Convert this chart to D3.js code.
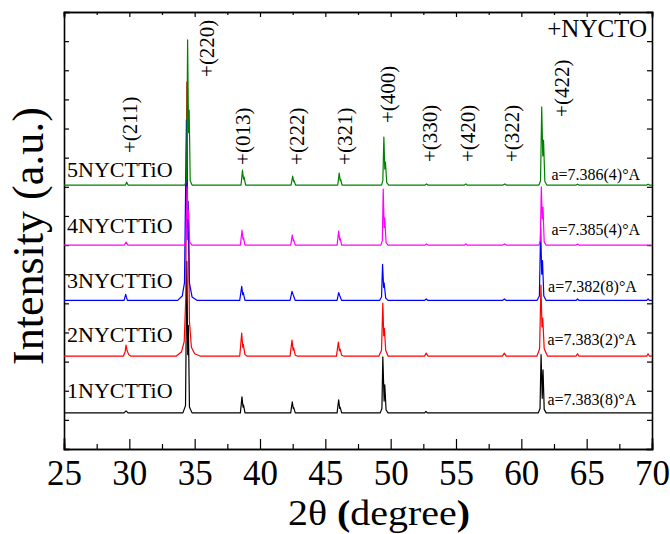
<!DOCTYPE html>
<meta charset="utf-8">
<script src="https://d3js.org/d3.v7.min.js"></script>
<style>
body { margin: 0; background: #fff; }
svg { display: block; font-family: "Liberation Serif", "Times New Roman", serif; }
.axis path { stroke: #000; stroke-width: 1.6px; }
.axis line { stroke: #000; stroke-width: 1.2px; }
.axis text { font-size: 35px; fill: #000; font-family: "Liberation Serif", "Times New Roman", serif; }
.trace { fill: none; stroke-width: 1.2px; stroke-linejoin: round; }
</style>
<body>
<div id="chart"></div>
</body>
<script>

// samples, bottom to top (black drawn first, green last)
var samples = ['1NYCTTiO', '2NYCTTiO', '3NYCTTiO', '4NYCTTiO', '5NYCTTiO'];
var colors  = ['#000000', '#ff0000', '#0000ff', '#ff00ff', '#008000'];
var offsets = [124, 319, 510, 700, 906];
var latticeText = ['a=7.383(8)°A', 'a=7.383(2)°A', 'a=7.382(8)°A', 'a=7.385(4)°A', 'a=7.386(4)°A'];

// [2theta, intensity above own baseline]
var s1 = [[25,0],[29.6,0],[29.75,7],[29.9,0],
  [34.1,0],[34.3,25],[34.40,520],[34.47,200],[34.52,300],[34.6,20],[34.8,0],
  [38.5,0],[38.62,55],[38.7,20],[38.74,27],[38.85,0],
  [42.35,0],[42.47,38],[42.55,15],[42.58,18],[42.7,0],
  [45.9,0],[46.02,45],[46.1,15],[46.13,20],[46.25,0],
  [49.2,0],[49.33,15],[49.40,192],[49.5,40],[49.55,96],[49.65,10],[49.8,0],
  [52.6,0],[52.7,5],[52.8,0],
  [61.3,0],[61.43,15],[61.51,200],[61.6,50],[61.66,148],[61.75,12],[61.9,0],
  [70,0]];

var s2 = [[25,0],[29.55,0],[29.68,15],[29.75,38],[29.82,20],[29.95,5],[30.1,0],
  [33.6,0],[34.0,15],[34.2,50],[34.32,200],[34.40,940],[34.47,400],[34.52,500],[34.6,120],[34.75,30],[35.0,8],[35.4,0],
  [38.45,0],[38.6,79],[38.68,30],[38.72,40],[38.85,5],[39.0,0],
  [42.3,0],[42.45,55],[42.53,20],[42.57,28],[42.7,3],[42.85,0],
  [45.85,0],[46.0,48],[46.08,18],[46.12,25],[46.25,3],[46.4,0],
  [49.1,0],[49.3,20],[49.40,182],[49.47,70],[49.52,95],[49.62,20],[49.8,0],
  [52.6,0],[52.72,10],[52.85,0],
  [58.55,0],[58.7,10],[58.85,0],
  [61.2,0],[61.4,25],[61.5,244],[61.58,100],[61.64,130],[61.75,25],[62.0,0],
  [64.2,0],[64.3,8],[64.4,0],
  [69.6,0],[69.7,8],[69.8,0],[70,0]];

var s3 = [[25,0],[29.6,0],[29.72,21],[29.85,0],
  [33.7,0],[34.05,15],[34.22,60],[34.37,620],[34.45,250],[34.5,340],[34.6,60],[34.8,12],[35.2,0],
  [38.45,0],[38.6,48],[38.68,20],[38.72,27],[38.85,0],
  [42.3,0],[42.45,31],[42.55,18],[42.7,0],
  [45.9,0],[46.02,27],[46.12,14],[46.25,0],
  [49.15,0],[49.3,12],[49.38,124],[49.46,45],[49.5,60],[49.62,8],[49.8,0],
  [52.6,0],[52.72,5],[52.85,0],
  [58.55,0],[58.7,5],[58.85,0],
  [61.2,0],[61.38,15],[61.48,250],[61.56,90],[61.62,137],[61.72,15],[61.9,0],
  [64.2,0],[64.3,5],[64.4,0],
  [69.6,0],[69.7,5],[69.8,0],[70,0]];

var s4 = [[25,0],[29.62,0],[29.75,10],[29.88,0],
  [34.2,0],[34.35,20],[34.42,200],[34.48,90],[34.53,120],[34.62,10],[34.8,0],
  [38.5,0],[38.62,51],[38.7,20],[38.74,25],[38.85,0],
  [42.35,0],[42.47,34],[42.55,14],[42.58,18],[42.7,0],
  [45.9,0],[46.02,48],[46.1,18],[46.13,24],[46.25,0],
  [49.25,0],[49.36,15],[49.43,192],[49.5,60],[49.55,93],[49.65,8],[49.8,0],
  [52.65,0],[52.75,4],[52.85,0],
  [55.65,0],[55.76,4],[55.85,0],
  [58.6,0],[58.72,4],[58.85,0],
  [61.35,0],[61.45,15],[61.53,200],[61.6,90],[61.66,130],[61.75,10],[61.9,0],
  [64.2,0],[64.3,3],[64.4,0],
  [70,0]];

var s5 = [[25,0],[29.7,0],[29.8,10],[29.9,0],
  [34.25,0],[34.38,20],[34.46,498],[34.53,180],[34.58,257],[34.66,15],[34.8,0],
  [38.55,0],[38.66,51],[38.74,20],[38.78,27],[38.9,0],
  [42.38,0],[42.5,31],[42.58,12],[42.61,15],[42.72,0],
  [45.95,0],[46.06,41],[46.14,15],[46.17,20],[46.28,0],
  [49.3,0],[49.4,15],[49.48,165],[49.55,55],[49.6,79],[49.7,8],[49.85,0],
  [52.65,0],[52.75,4],[52.85,0],
  [55.65,0],[55.76,4],[55.85,0],
  [58.6,0],[58.74,4],[58.85,0],
  [61.35,0],[61.47,15],[61.56,268],[61.64,100],[61.7,154],[61.8,12],[61.95,0],
  [64.2,0],[64.3,3],[64.4,0],
  [69.6,0],[69.7,3],[69.8,0],[70,0]];

var series = [s1, s2, s3, s4, s5];

// reflection labels (NYCTO phase)
var hklLabels = ['+(211)', '+(220)', '+(013)', '+(222)', '+(321)', '+(400)', '+(330)', '+(420)', '+(322)', '+(422)'];
var hklTheta  = [30.05, 35.94, 38.70, 42.83, 46.5, 49.8, 53.0, 55.92, 59.29, 63.1];
var hklLevel  = [1016, 1277, 975, 975, 975, 1119, 985, 985, 985, 1140];

var sampleLevel = [175, 367, 553, 741, 934];
var latticeTheta = [62.0, 62.0, 62.05, 62.3, 62.3];
var latticeLevel = [151, 357, 539, 735, 923];

var xTicks = [25, 30, 35, 40, 45, 50, 55, 60, 65, 70];
var xMinor = [27.5, 32.5, 37.5, 42.5, 47.5, 52.5, 57.5, 62.5, 67.5];
var yTicks = d3.range(0, 1501, 100);

var margin = {top: 12, right: 18, bottom: 85, left: 64};
var width = 670 - margin.left - margin.right,
    height = 534 - margin.top - margin.bottom;

var svg = d3.select('#chart').append('svg')
    .attr('width', 670)
    .attr('height', 534)
  .append('g')
    .attr('transform', 'translate(' + margin.left + ',' + margin.top + ')');

var xScale = d3.scaleLinear().domain([25, 70]).range([0, width]);
var yScale = d3.scaleLinear().domain([0, 1500]).range([height, 0]);

// minor ticks first so the main axis draws over
svg.append('g').attr('class', 'axis')
    .attr('transform', 'translate(0,' + height + ')')
    .call(d3.axisBottom(xScale).tickValues(xMinor).tickSize(-5).tickFormat(''));
svg.append('g').attr('class', 'axis')
    .call(d3.axisTop(xScale).tickValues(xMinor).tickSize(-3).tickFormat(''));
svg.append('g').attr('class', 'axis')
    .call(d3.axisTop(xScale).tickValues(xTicks).tickSize(-5).tickFormat(''));
svg.append('g').attr('class', 'axis')
    .call(d3.axisLeft(yScale).tickValues(yTicks).tickSize(-5).tickFormat(''));
svg.append('g').attr('class', 'axis')
    .attr('transform', 'translate(' + width + ',0)')
    .call(d3.axisRight(yScale).tickValues(yTicks).tickSize(-5).tickFormat(''));
svg.append('g').attr('class', 'axis')
    .attr('transform', 'translate(0,' + height + ')')
    .call(d3.axisBottom(xScale).tickValues(xTicks).tickSize(-10).tickPadding(11).tickFormat(d3.format('d')));

svg.selectAll('.axis').attr('font-family', null);
svg.selectAll('.axis path').attr('stroke-linecap', 'square');

// traces
var this_offset = 0;
var line = d3.line()
    .x(function(d) { return xScale(d[0]); })
    .y(function(d) { return yScale(d[1] + this_offset); });

series.forEach(function(s, i) {
  this_offset = offsets[i];
  svg.append('path')
    .attr('class', 'trace')
    .attr('stroke', colors[i])
    .attr('d', line(s));
});

// sample names
svg.selectAll('.sampleText')
  .data(samples).enter().append('text')
  .attr('x', 3)
  .attr('y', function(d, i) { return yScale(sampleLevel[i]); })
  .style('font-size', '22px')
  .text(function(d) { return d; });

// lattice parameters
svg.selectAll('.latText')
  .data(latticeText).enter().append('text')
  .attr('x', function(d, i) { return xScale(latticeTheta[i]); })
  .attr('y', function(d, i) { return yScale(latticeLevel[i]); })
  .style('font-size', '16px')
  .text(function(d) { return d; });

// hkl labels, rotated
svg.selectAll('.hkl')
  .data(hklLabels).enter().append('text')
  .attr('transform', function(d, i) {
    return 'translate(' + xScale(hklTheta[i]) + ',' + yScale(hklLevel[i]) + ') rotate(-90)';
  })
  .attr('dy', '0.35em')
  .style('font-size', '21px')
  .text(function(d) { return d; });

svg.append('text')
  .attr('x', 583)
  .attr('y', 25)
  .attr('text-anchor', 'end')
  .style('font-size', '25px')
  .text('+NYCTO');

// axis titles
var xt = svg.append('text')
  .attr('x', 315)
  .attr('y', 513)
  .attr('text-anchor', 'middle')
  .attr('textLength', 182)
  .attr('lengthAdjust', 'spacingAndGlyphs')
  .style('font-size', '35px');
xt.append('tspan').text('2θ ');
xt.append('tspan').style('font-weight', 'bold').text('(');
xt.append('tspan').text('degree');
xt.append('tspan').style('font-weight', 'bold').text(')');

svg.append('text')
  .attr('transform', 'translate(-21,' + (236 - margin.top) + ') rotate(-90)')
  .attr('text-anchor', 'middle')
  .style('font-size', '44px')
  .text('Intensity (a.u.)');

</script>
